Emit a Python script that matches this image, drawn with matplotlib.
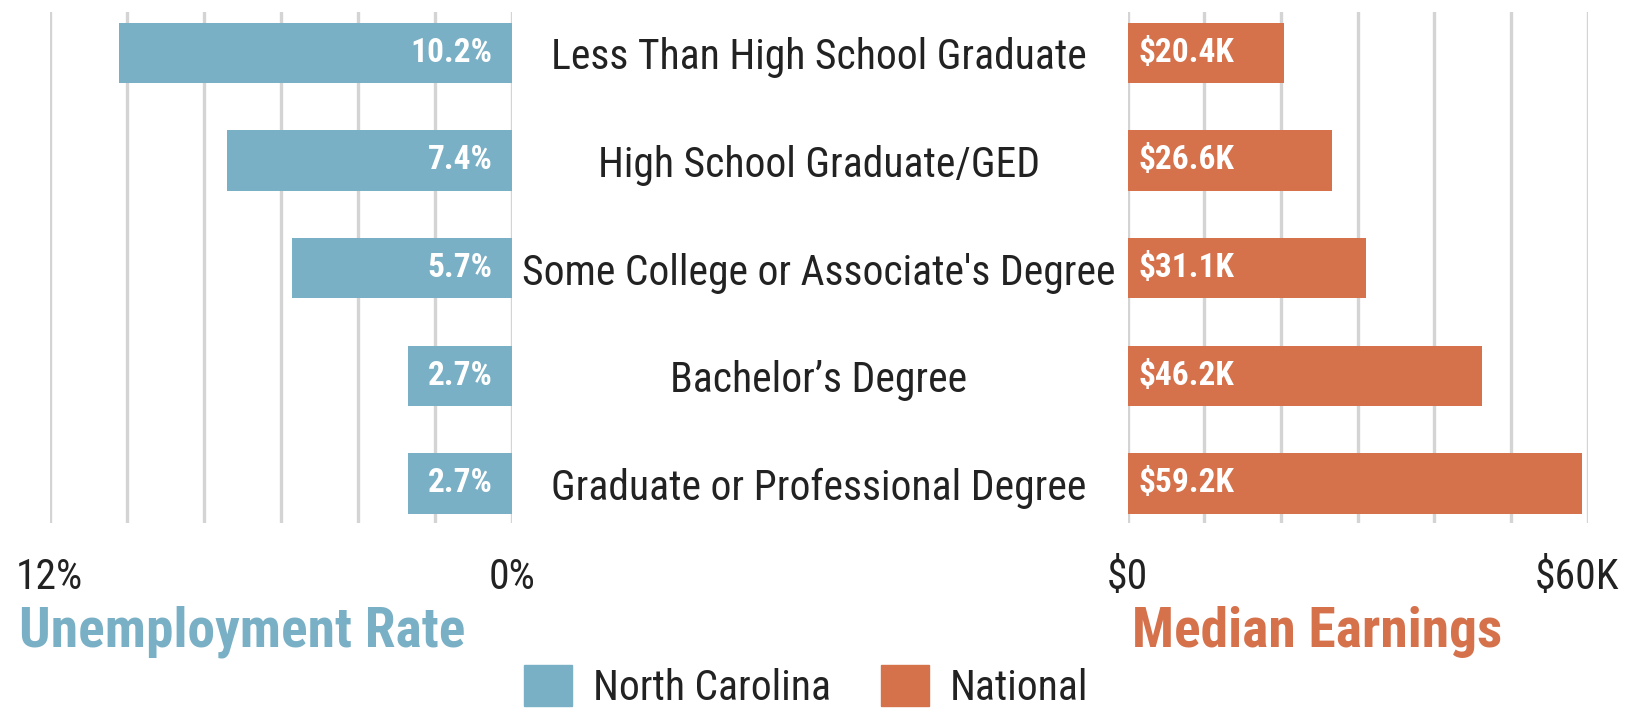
import matplotlib
matplotlib.use("Agg")
import matplotlib.pyplot as plt
from matplotlib.patches import Patch
from matplotlib.transforms import ScaledTranslation

plt.rcParams['font.family'] = ['Roboto Condensed', 'Liberation Sans Narrow', 'DejaVu Sans']

categories = ["Less Than High School Graduate", "High School Graduate/GED",
              "Some College or Associate's Degree", "Bachelor\u2019s Degree",
              "Graduate or Professional Degree"]
unemployment = [10.2, 7.4, 5.7, 2.7, 2.7]
earnings = [20.4, 26.6, 31.1, 46.2, 59.2]
unemp_labels = ["10.2%", "7.4%", "5.7%", "2.7%", "2.7%"]
earn_labels = ["$20.4K", "$26.6K", "$31.1K", "$46.2K", "$59.2K"]

blue = "#79b0c5"
orange = "#d5714b"
grid = "#d4d4d4"
W, H = 1568, 690

fig = plt.figure(figsize=(16.25, 7.15), dpi=100)

def frac(x0, x1):
    return x0 / W, (x1 - x0) / W

bot = 1 - 505 / H
top = 1 - 12 / H

l0, lw = frac(48, 494)
axl = fig.add_axes([l0, bot, lw, top - bot])
r0, rw = frac(1088, 1532)
axr = fig.add_axes([r0, bot, rw, top - bot])

y = list(range(len(categories)))

axl.barh(y, unemployment, height=0.56, color=blue, zorder=3)
axl.set_xlim(12, 0)
axl.set_xticks(range(0, 13, 2))
axl.set_xticklabels(["0%", "", "", "", "", "", "12%"])
for yi, v, lab in zip(y, unemployment, unemp_labels):
    axl.annotate(lab, (0, yi), xytext=(-14, 0), textcoords="offset points",
                 ha="right", va="center", color="white", fontsize=24,
                 fontweight="bold", zorder=4)

axr.barh(y, earnings, height=0.56, color=orange, zorder=3)
axr.set_xlim(0, 60)
axr.set_xticks(range(0, 61, 10))
axr.set_xticklabels(["$0", "", "", "", "", "", "$60K"])
for yi, v, lab in zip(y, earnings, earn_labels):
    axr.annotate(lab, (0, yi), xytext=(8, 0), textcoords="offset points",
                 ha="left", va="center", color="white", fontsize=24,
                 fontweight="bold", zorder=4)

for ax in (axl, axr):
    ax.set_ylim(4.37, -0.375)
    ax.set_yticks([])
    for s in ax.spines.values():
        s.set_visible(False)
    ax.grid(axis="x", color=grid, linewidth=2.4, zorder=0)
    ax.tick_params(axis="x", length=0, pad=24, labelsize=30, labelcolor="#222222")

# nudge the $60K label left so it stays inside the figure
last = axr.get_xticklabels()[-1]
last.set_transform(last.get_transform() + ScaledTranslation(-8 / 72, 0, fig.dpi_scale_trans))

cx = 790 / W
for yi, cat in zip(y, categories):
    yf = bot + (top - bot) * (4.37 - yi) / (4.37 + 0.375) - 5 / H
    fig.text(cx, yf, cat, ha="center", va="center", fontsize=30, color="#222222")

fig.text(18 / W, 1 - 610 / H, "Unemployment Rate", ha="left", va="center",
         fontsize=40, fontweight="bold", color=blue)
fig.text(1092 / W, 1 - 610 / H, "Median Earnings", ha="left", va="center",
         fontsize=40, fontweight="bold", color=orange)

handles = [Patch(color=blue, label="North Carolina"), Patch(color=orange, label="National")]
fig.legend(handles=handles, loc="center", bbox_to_anchor=(778 / W, 1 - 663 / H),
           ncol=2, frameon=False, fontsize=30, handlelength=1.15, handleheight=1.15,
           handletextpad=0.5, columnspacing=1.2, labelcolor="#222222")

fig.savefig("out.png", dpi=100)
